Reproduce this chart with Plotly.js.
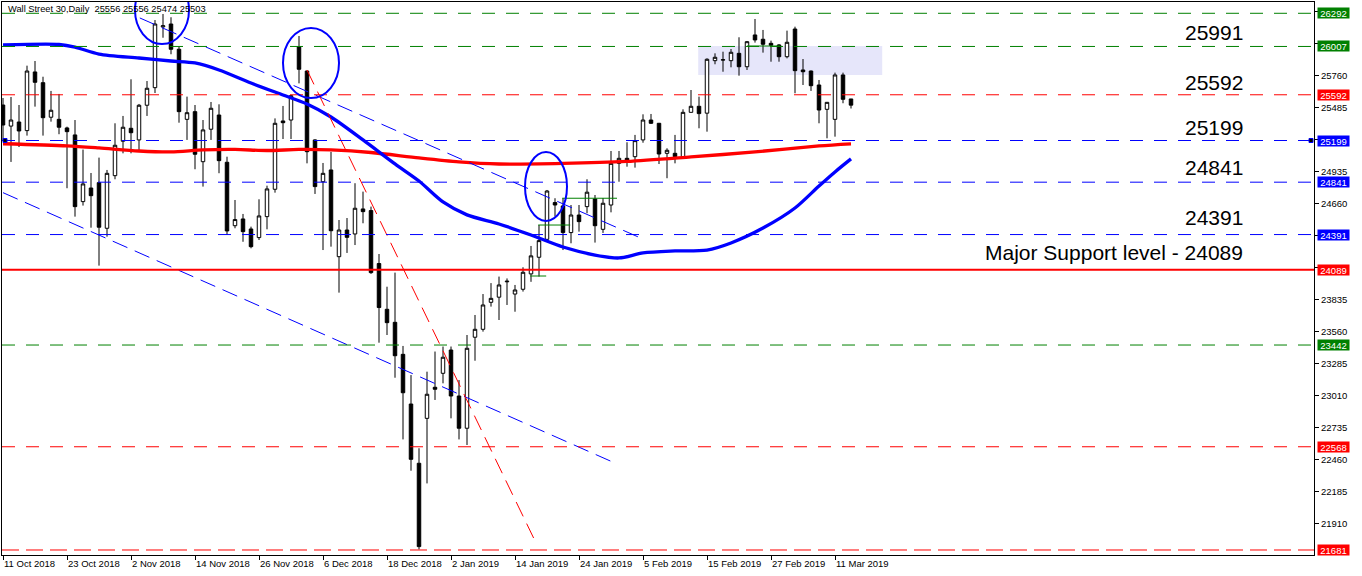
<!DOCTYPE html>
<html>
<head>
<meta charset="utf-8">
<script src="https://cdn.plot.ly/plotly-3.0.1.min.js"></script>
<style>
html,body{margin:0;padding:0;background:#ffffff;}
#chart{width:1362px;height:576px;}
</style>
</head>
<body>
<div id="chart"></div>
<script>
// ---------------- DATA ----------------
const barCount = 107;
const bars = Array.from({length: barCount}, (_, i) => i);

const openPx = [25504,25323,25358,25284,25788,25696,25399,25381,25307,25247,
24674,24791,24837,24445,24897,25193,25304,25204,25502,25653,
26175,26200,25983,25381,25447,25017,25296,25418,25012,24467,
24525,24439,24365,24545,24780,25367,25375,26005,25796,25204,
24845,24946,24201,24430,24396,24611,24597,24142,23749,23637,
23362,22935,22426,22812,23079,23199,23399,23004,22727,23509,
23577,23809,23853,23985,23880,23921,24053,24196,24350,24666,
24637,24408,24559,24631,24697,24436,24645,25003,25046,25060,
25204,25375,25347,25089,25089,25060,25441,25493,25434,25885,
25890,25885,25948,25833,26106,26069,26034,26020,25919,26157,
25805,25796,25676,25467,25381,25762,25556];

const highPx = [25564,25573,25504,25842,25882,25747,25625,25599,25318,25375,
25121,24920,25052,24946,25347,25410,25725,25513,25710,26234,
26286,26258,26005,25576,25504,25375,25530,25510,25060,24688,
24568,24459,24694,24811,25389,25496,25590,26097,25800,25210,
25006,25101,24516,24533,24832,24760,24631,24224,23943,24064,
23434,23184,22555,23213,23386,23429,23429,23141,23528,23700,
23880,23974,24030,24014,23958,24110,24293,24473,24774,24703,
24703,24645,24645,24866,24731,24705,25109,25109,25184,25247,
25424,25427,25350,25132,25247,25467,25633,25576,25905,25948,
25962,25985,26086,26054,26243,26149,26057,26028,26143,26177,
25899,25800,25719,25530,25782,25782,25556];

const lowPx = [25204,25015,25143,25241,25490,25241,25361,25253,24789,24545,
24640,24450,24124,24373,24866,25089,25089,25118,25410,25607,
26082,25940,25352,25204,24952,24803,25204,24918,24388,24445,
24329,24273,24344,24436,24751,25212,25212,25690,25003,24740,
24258,24287,23892,24233,24301,24488,24053,23462,23528,23161,
22631,22362,21686,22253,22970,23113,22812,22631,22583,23307,
23557,23772,23657,23786,23728,23901,23985,24030,24344,24545,
24258,24316,24416,24574,24322,24405,24582,24845,24974,24966,
25180,25341,24997,24875,25003,25060,25441,25304,25275,25854,
25790,25828,25756,25805,26040,25954,25876,25876,25905,25605,
25676,25625,25347,25218,25232,25519,25474];

const closePx = [25332,25375,25281,25796,25699,25395,25459,25313,25275,24631,
24826,24725,24454,24917,25158,25313,25266,25502,25648,26200,
26185,25983,25447,25438,25081,25290,25476,25026,24422,24520,
24416,24287,24551,24783,25347,25352,25584,25811,25103,24803,
24917,24424,24430,24367,24617,24588,24064,23764,23634,23350,
23032,22460,21710,23019,23062,23337,23004,22727,23414,23577,
23786,23843,23958,23990,23915,24067,24208,24339,24765,24645,
24408,24559,24502,24755,24467,24660,25003,25046,25032,25198,
25375,25347,25083,25115,25060,25441,25493,25430,25897,25914,
25893,25957,25833,26048,26063,26026,26017,25919,26043,25799,
25790,25670,25461,25527,25762,25553,25503];

// moving averages
const blueMaBars = [0,7,9,12,17,21,24,27,31,35,38,41,45,49,52,55,58,62,66,70,74,77,80,84,88,91,95,99,102,104,106];
const blueMa = [26020,26024,26002,25942,25908,25882,25865,25805,25693,25590,25513,25401,25204,24998,24851,24671,24560,24482,24387,24284,24215,24190,24233,24250,24258,24319,24447,24619,24808,24929,25041];

const redMaBars = [0,8,12,17,21,25,29,33,37,41,46,52,57,62,70,78,86,94,102,106];
const redMa = [25171,25153,25135,25109,25101,25118,25122,25113,25122,25118,25096,25049,25015,24997,25002,25019,25058,25101,25152,25170];

// x-axis labels
const tickBars = [0,8,16,24,32,40,48,56,64,72,80,88,96,104];
const tickLabels = ["11 Oct 2018","23 Oct 2018","2 Nov 2018","14 Nov 2018","26 Nov 2018","6 Dec 2018","18 Dec 2018","2 Jan 2019","14 Jan 2019","24 Jan 2019","5 Feb 2019","15 Feb 2019","27 Feb 2019","11 Mar 2019"];

// y-axis regular ticks (labels hidden where the coloured level boxes sit)
const priceTicks = [21910,22185,22460,22735,23010,23285,23560,23835,24110,24385,24660,24935,25210,25485,25760,26035,26310];
const priceTickLabels = ["21910","22185","22460","22735","23010","23285","23560","23835","","","24660","24935","","25485","25760","",""];

// horizontal levels
const levelValues = [26292,26007,25592,25199,24841,24391,24089,23442,22568,21681];
const levelKinds  = ["green","green","red","blue","blue","blue","redSolid","green","red","redLong"];

// level texts
const levelTexts = ["25991","25592","25199","24841","24391","Major Support level - 24089"];
const levelTextPrices = [26124,25697,25311,24967,24538,24237];

// trend lines [bar, price]
const trendBlueUpperBars = [17.1, 80.25];
const trendBlueUpperPx = [26252, 24345];
const trendBlueLowerBars = [0, 76.1];
const trendBlueLowerPx = [24751, 22440];
const trendRedBars = [38, 66.75];
const trendRedPx = [25805, 21724];

// ellipses [x0,x1,y0,y1]
const ellipses = [
  [16.5, 23.25, 26028, 26612],
  [35.0, 42.0, 25564, 26166],
  [65.25, 70.5, 24508, 25100]
];
// rectangle zone
const zone = [86.9, 109.9, 25762, 26011];
// small green segments [x0,x1,price]
const greenSegs = [[65.9,67.9,24035],[66.9,70.9,24473],[69.9,76.75,24703],[93,97.1,26011]];

const title = "Wall Street 30,Daily\u00a0\u00a025556 25556 25474 25503";

// ---------------- STYLE ----------------
const FONT = "Liberation Sans, Arial, sans-serif";
const colorMap = {green:"#008000", red:"#ff0000", blue:"#0000ff", redSolid:"#ff0000", redLong:"#ff0000"};
const dashMap = {green:"13px,11px", red:"13px,11px", blue:"13px,11px", redSolid:"solid", redLong:"17px,7px"};
const widthMap = {green:1, red:1, blue:1, redSolid:2, redLong:1};

const traces = [
  {
    type: "candlestick",
    x: bars, open: openPx, high: highPx, low: lowPx, close: closePx,
    increasing: {line: {color: "#000000", width: 1}, fillcolor: "#ffffff"},
    decreasing: {line: {color: "#000000", width: 1}, fillcolor: "#000000"},
    whiskerwidth: 0,
    hoverinfo: "skip",
    showlegend: false
  },
  {type:"scatter", mode:"lines", x: redMaBars, y: redMa, line:{color:"#ff0000", width:3.3, shape:"spline", smoothing:0.8}, hoverinfo:"skip", showlegend:false},
  {type:"scatter", mode:"lines", x: blueMaBars, y: blueMa, line:{color:"#0000ff", width:3.3, shape:"spline", smoothing:0.8}, hoverinfo:"skip", showlegend:false},
  {type:"scatter", mode:"lines", x: trendBlueUpperBars, y: trendBlueUpperPx, line:{color:"#0000ff", width:1, dash:"16px,8px"}, hoverinfo:"skip", showlegend:false},
  {type:"scatter", mode:"lines", x: trendBlueLowerBars, y: trendBlueLowerPx, line:{color:"#0000ff", width:1, dash:"16px,8px"}, hoverinfo:"skip", showlegend:false},
  {type:"scatter", mode:"lines", x: trendRedBars, y: trendRedPx, line:{color:"#ff0000", width:1, dash:"16px,8px"}, hoverinfo:"skip", showlegend:false}
];

const shapes = [];
// zone rectangle (background)
shapes.push({type:"rect", xref:"x", yref:"y", x0: zone[0], x1: zone[1], y0: zone[2], y1: zone[3],
  fillcolor:"#e6e6fa", line:{width:0}, layer:"below"});
// horizontal levels
levelValues.forEach((v, i) => {
  const k = levelKinds[i];
  shapes.push({type:"line", xref:"paper", yref:"y", x0:0, x1:1, y0:v, y1:v, layer:"above",
    line:{color: colorMap[k], width: widthMap[k], dash: dashMap[k]}});
});
// green small segments
greenSegs.forEach(s => {
  shapes.push({type:"line", xref:"x", yref:"y", x0:s[0], x1:s[1], y0:s[2], y1:s[2], layer:"above",
    line:{color:"#008000", width:1}});
});
// ellipses
ellipses.forEach(e => {
  shapes.push({type:"circle", xref:"x", yref:"y", x0:e[0], x1:e[1], y0:e[2], y1:e[3], layer:"above",
    line:{color:"#0000ff", width:2}});
});
// selection squares for the 25199 line
shapes.push({type:"rect", xref:"x", yref:"y", xsizemode:"pixel", ysizemode:"pixel", xanchor:0.25, yanchor:25199,
  x0:-2, x1:2, y0:-2, y1:2, fillcolor:"#000000", line:{color:"#0000ff", width:1}, layer:"above"});
shapes.push({type:"rect", xref:"paper", yref:"y", xsizemode:"pixel", ysizemode:"pixel", xanchor:1, yanchor:25199,
  x0:-5, x1:-1, y0:-2, y1:2, fillcolor:"#000000", line:{color:"#0000ff", width:1}, layer:"above"});

const annotations = [];
// axis colored labels
levelValues.forEach((v, i) => {
  const k = levelKinds[i];
  annotations.push({xref:"paper", yref:"y", x:1, y:v, xanchor:"left", yanchor:"middle", xshift:3,
    text: String(v), showarrow:false, bgcolor: colorMap[k], borderpad:0, width:31, height:10,
    font:{family: FONT, size:9.5, color:"#ffffff"}, align:"center"});
});
// level texts
levelTexts.forEach((t, i) => {
  annotations.push({xref:"paper", yref:"y", x:0.9474, y: levelTextPrices[i], xanchor:"right", yanchor:"middle",
    text: t, showarrow:false, font:{family: FONT, size:21, color:"#000000"}});
});
// title
annotations.push({xref:"paper", yref:"paper", x:0.003, y:0.988, xanchor:"left", yanchor:"middle",
  text: title, showarrow:false, font:{family: FONT, size:9.3, color:"#000000"}});

const layout = {
  width: 1362, height: 576,
  margin: {l:2, r:48, t:2, b:21, pad:0},
  paper_bgcolor: "#ffffff", plot_bgcolor: "#ffffff",
  showlegend: false,
  boxgap: 0.38,
  xaxis: {
    type:"linear", range:[-0.125, 163.875], showgrid:false, zeroline:false,
    showline:true, linecolor:"#000000", linewidth:1, mirror:true,
    ticks:"outside", ticklen:4, tickcolor:"#000000", tickwidth:1,
    tickvals: tickBars, ticktext: tickLabels, ticklabelposition:"outside right",
    tickfont:{family: FONT, size:9.5, color:"#000000"},
    rangeslider:{visible:false}, fixedrange:true
  },
  yaxis: {
    side:"right", range:[21638, 26389], showgrid:false, zeroline:false,
    showline:true, linecolor:"#000000", linewidth:1, mirror:true,
    ticks:"outside", ticklen:4, tickcolor:"#000000", tickwidth:1,
    tickvals: priceTicks, ticktext: priceTickLabels,
    tickfont:{family: FONT, size:9.5, color:"#000000"}, fixedrange:true
  },
  shapes: shapes,
  annotations: annotations
};

Plotly.newPlot("chart", traces, layout, {displayModeBar:false, staticPlot:true});
</script>
</body>
</html>
